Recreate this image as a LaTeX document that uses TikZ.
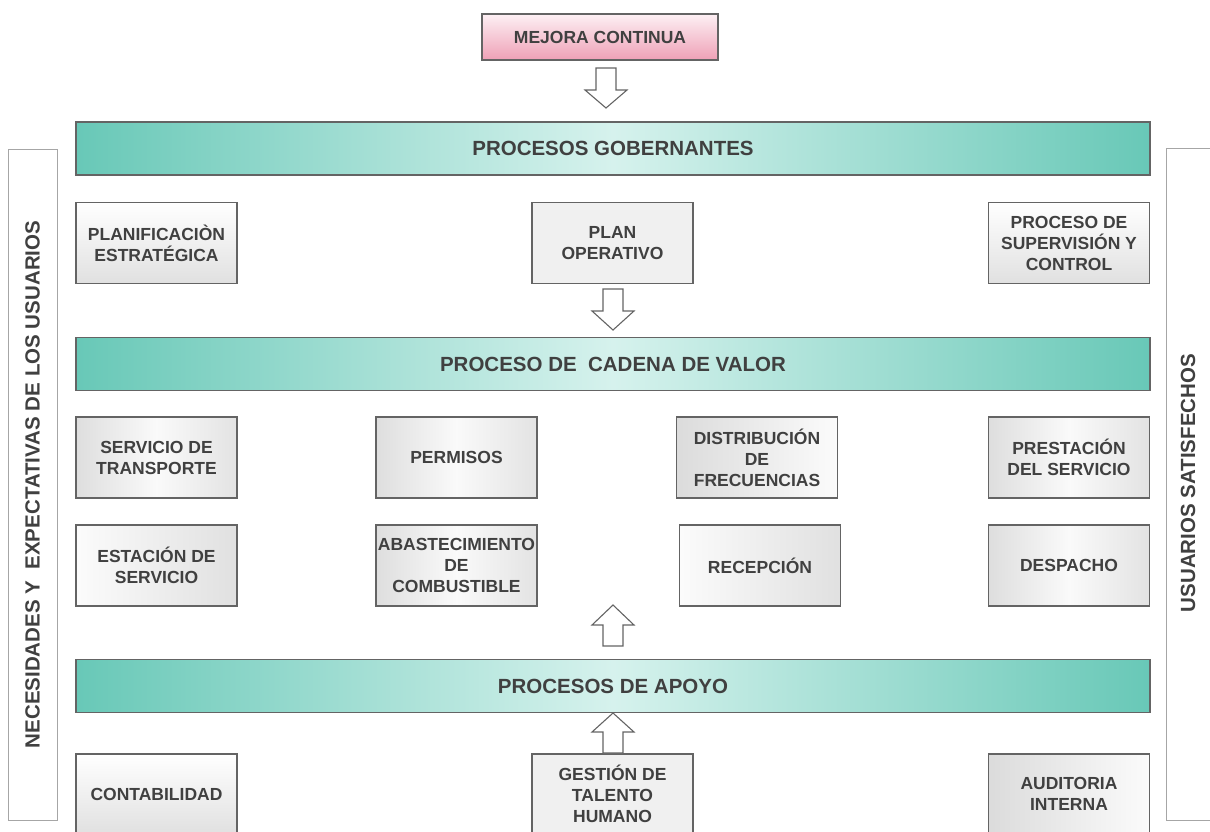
\documentclass[tikz,border=0pt]{standalone}
\usepackage{fontspec}
\setmainfont{Liberation Sans}
\definecolor{txtgray}{RGB}{64,64,64}
\definecolor{bordergray}{RGB}{100,100,100}
\definecolor{tealedge}{RGB}{104,200,183}
\definecolor{tealmid}{RGB}{214,242,237}
\definecolor{pinktop}{RGB}{253,240,244}
\definecolor{pinkbot}{RGB}{238,160,182}
\tikzset{
  txt/.style={font=\fontsize{17.5}{21}\selectfont\bfseries, text=txtgray, align=center},
  gbox/.style={txt, draw=bordergray, line width=1.1pt, minimum width=161pt, minimum height=81pt, inner sep=0pt, outer sep=0pt},
  sv/.style={top color=white, bottom color=gray!24},
  sh/.style={left color=gray!26, right color=gray!22, middle color=gray!4},
  sl/.style={left color=gray!28, right color=gray!3},
  sr/.style={left color=gray!3, right color=gray!24},
  sp/.style={fill=gray!12},
  band/.style={draw=bordergray, line width=1.1pt, minimum width=1074pt, minimum height=53pt, inner sep=0pt,
    left color=tealedge, right color=tealedge, middle color=tealmid,
    font=\fontsize{20.5}{24}\selectfont\bfseries, text=txtgray},
  sidetxt/.style={font=\fontsize{20.5}{24}\selectfont\bfseries, text=txtgray, inner sep=0pt},
  barrow/.style={draw=bordergray, fill=white, line width=1.1pt, line join=miter},
}
\newcommand\blkdown[3]{\draw[barrow] ({#1-10},#2) -- ({#1+10},#2) -- ({#1+10},{#2+22}) -- ({#1+21},{#2+22}) -- (#1,#3) -- ({#1-21},{#2+22}) -- ({#1-10},{#2+22}) -- cycle;}
\newcommand\blkup[3]{\draw[barrow] ({#1-10},#2) -- ({#1+10},#2) -- ({#1+10},{#2-21}) -- ({#1+21},{#2-21}) -- (#1,#3) -- ({#1-21},{#2-21}) -- ({#1-10},{#2-21}) -- cycle;}
\begin{document}
\begin{tikzpicture}[x=1pt,y=-1pt]
\useasboundingbox (0,0) rectangle (1210,831);
\clip (0,0) rectangle (1210,831);
\fill[white] (0,0) rectangle (1210,831);

% top box
\node[txt, draw=bordergray, line width=1.1pt, top color=pinktop, bottom color=pinkbot,
  minimum width=236pt, minimum height=46pt, inner sep=0pt] (mejora) at (600,37) {MEJORA CONTINUA};

% bands
\node[band] (gob) at (613,148.5) {PROCESOS GOBERNANTES};
\node[band] (cadena) at (613,364) {PROCESO DE~~CADENA DE VALOR};
\node[band] (apoyo) at (613,686) {PROCESOS DE APOYO};

% side boxes
\node[sidetxt, draw=gray!70, line width=1pt, rotate=90, minimum width=671pt, minimum height=49pt] (need) at (32.5,484.5)
  {NECESIDADES Y~~EXPECTATIVAS DE LOS USUARIOS};
\draw[gray!70, line width=1pt] (1215,148) -- (1166,148) -- (1166,820) -- (1215,820);
\node[sidetxt, rotate=90] (sat) at (1188,483) {USUARIOS SATISFECHOS};

% row 1
\node[gbox, sv] (plan) at (156.5,243) {PLANIFICACIÒN\\ESTRATÉGICA};
\node[gbox, sp] (oper) at (612.5,243) {PLAN\\OPERATIVO};
\node[gbox, sv] (super) at (1069,243) {PROCESO DE\\SUPERVISIÓN Y\\CONTROL};

% row 2
\node[gbox, sh] (serv) at (156.5,457.5) {SERVICIO DE\\TRANSPORTE};
\node[gbox, sh] (perm) at (456.5,457.5) {PERMISOS};
\node[gbox, sl] (dist) at (757,457.5) {DISTRIBUCIÓN\\DE\\FRECUENCIAS};
\node[gbox, sh] (prest) at (1069,457.5) {PRESTACIÓN\\DEL SERVICIO};

% row 3
\node[gbox, sr] (est) at (156.5,565.5) {ESTACIÓN DE\\SERVICIO};
\node[gbox, sh] (abast) at (456.5,565.5) {ABASTECIMIENTO\\DE\\COMBUSTIBLE};
\node[gbox, sr] (recep) at (760,565.5) {RECEPCIÓN};
\node[gbox, sh] (desp) at (1069,565.5) {DESPACHO};

% bottom row
\node[gbox, sv, minimum height=80pt] (conta) at (156.5,794) {CONTABILIDAD};
\node[gbox, sp, minimum height=80pt] (talento) at (612.5,794) {GESTIÓN DE\\TALENTO\\HUMANO};
\node[gbox, sl, minimum height=80pt] (audit) at (1069,794) {AUDITORIA\\INTERNA};

% block arrows
\blkdown{606}{68}{108}
\blkdown{613}{289}{330}
\blkup{613}{646}{605}
\blkup{613}{753}{713}
\end{tikzpicture}
\end{document}
